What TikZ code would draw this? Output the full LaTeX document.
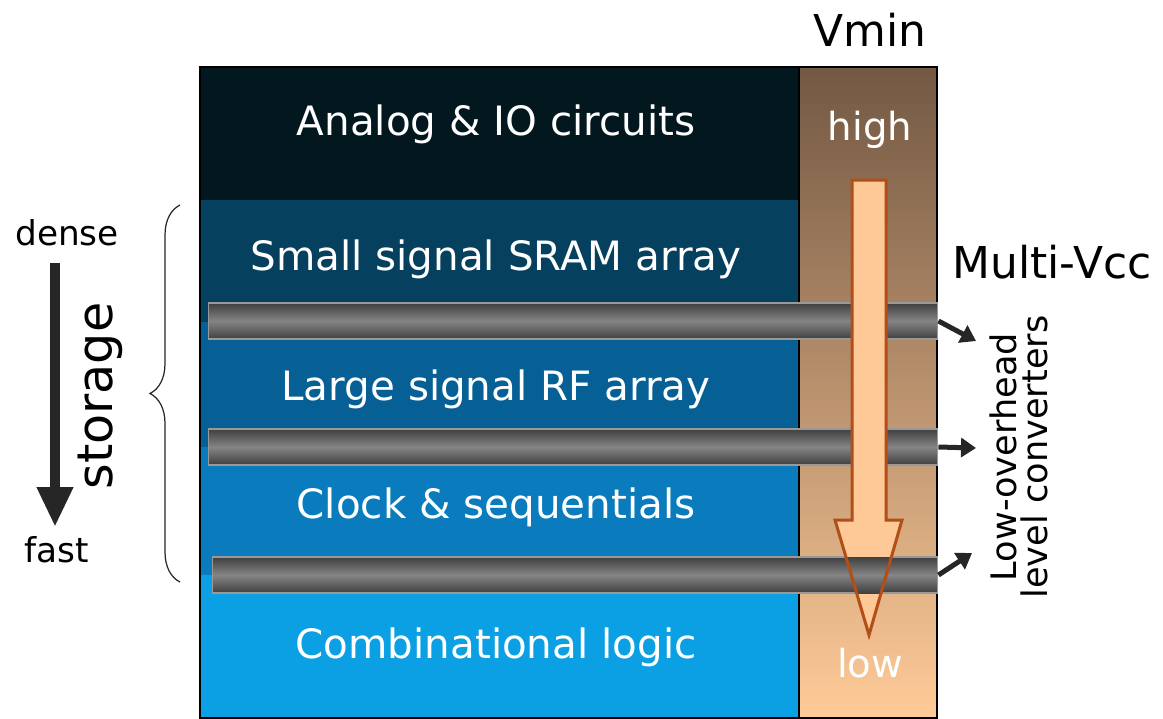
\documentclass[tikz,border=0pt]{standalone}
\usepackage{fontspec}
\setmainfont{DejaVu Sans}
\usetikzlibrary{arrows.meta, decorations.pathreplacing, positioning}

\definecolor{rowA}{HTML}{03171F}
\definecolor{rowB}{HTML}{05405F}
\definecolor{rowC}{HTML}{066096}
\definecolor{rowD}{HTML}{0A7CBD}
\definecolor{rowE}{HTML}{0BA0E4}
\definecolor{vtop}{HTML}{735843}
\definecolor{vbot}{HTML}{FFCB98}
\definecolor{peach}{HTML}{FFC897}
\definecolor{rust}{HTML}{B24E18}
\definecolor{ink}{HTML}{262626}

\begin{document}
\begin{tikzpicture}[
  x = 0.02cm, y = -0.02cm,     % one unit = one pixel of the sketch
  line join = miter
  ]

  \tikzstyle{T1}=[      % Defines style for row labels
  text = white,
  anchor = base,
  font = \fontsize{23}{27}\selectfont
  ]

  \tikzstyle{T2}=[      % Defines style for outside labels
  text = black,
  anchor = base,
  font = \fontsize{25}{29}\selectfont
  ]

  \tikzstyle{B1}=[      % Defines style for the wire bars
  rectangle, inner sep = 0pt,
  minimum width = 14.6cm, minimum height = 0.72cm,
  top color = black!75, bottom color = black!75, middle color = black!48,
  draw = black!40, line width = 0.6pt
  ]

  \tikzstyle{A1}=[      % Defines style for converter arrows
  ink, line width = 0.1cm,
  -{Triangle[length=0.3cm, width=0.38cm]}
  ]

  \useasboundingbox (0,0) rectangle (1163,718);

  % Rows of the block
  \fill[rowA] (200,67) rectangle (800,200);
  \fill[rowB] (200,200) rectangle (800,322);
  \fill[rowC] (200,322) rectangle (800,447);
  \fill[rowD] (200,447) rectangle (800,575);
  \fill[rowE] (200,575) rectangle (800,718);

  % Vmin column
  \shade[top color = vtop, bottom color = vbot] (800,67) rectangle (937,718);
  \draw[black, line width = 0.8pt] (200,67) rectangle (937,718);
  \draw[black, line width = 0.8pt] (799,67) -- (799,718);

  % Row labels
  \node[T1] (analog) at (496,135) {Analog \& IO circuits};
  \node[T1] (sram)   at (496,270) {Small signal SRAM array};
  \node[T1] (rf)     at (496,400) {Large signal RF array};
  \node[T1] (clk)    at (496,518) {Clock \& sequentials};
  \node[T1] (comb)   at (496,658) {Combinational logic};

  \node[T1, font = \fontsize{22}{26}\selectfont] (high) at (870,140) {high};
  \node[T1, font = \fontsize{22}{26}\selectfont] (low)  at (870,677) {low};

  % Wire bars
  \node[B1] (bar1) at (573,321) {};
  \node[B1] (bar2) at (573,447) {};
  \node[B1, minimum width = 14.52cm] (bar3) at (575,575) {};

  % Vmin arrow
  \fill[peach] (852,180) -- (886,180) -- (886,520) -- (902,520) -- (869,635)
    -- (835,520) -- (852,520) -- cycle;
  \begin{scope}
    \clip (886,520) -- (902,520) -- (869,635) -- (835,520) -- (852,520) -- cycle;
    \shade[top color = black!75, bottom color = black!75, middle color = black!48]
      (830,557) rectangle (910,593);
  \end{scope}
  \draw[rust, line width = 0.06cm] (852,180) -- (886,180) -- (886,520)
    -- (902,520) -- (869,635) -- (835,520) -- (852,520) -- cycle;

  % Outside labels
  \node[T2] (vmin) at (870,46) {Vmin};
  \node[T2] (mvcc) at (1052,278) {Multi-Vcc};
  \node[rotate = 90, align = center, font = \fontsize{20}{18}\selectfont]
    (lvl) at (1019,457) {Low-overhead\\level converters};

  % Converter arrows
  \coordinate (c1) at (976,341);
  \coordinate (c2) at (976,448);
  \coordinate (c3) at (972,553);
  \draw[A1] (bar1.east) -- (c1);
  \draw[A1] (bar2.east) -- (c2);
  \draw[A1] (bar3.east) -- (c3);

  % Storage side
  \node[T2, font = \fontsize{19.5}{23}\selectfont] (dense) at (67,245) {dense};
  \node[T2, font = \fontsize{19.5}{23}\selectfont] (fast)  at (57,562) {fast};
  \node[rotate = 90, font = \fontsize{28}{32}\selectfont] (stor) at (100,396) {storage};

  \coordinate (sTop) at (55,263);
  \coordinate (sBot) at (55,527);
  \draw[ink, line width = 0.22cm, -{Triangle[length=0.8cm, width=0.68cm]}]
    (sTop) -- (sBot);

  \draw[ink, line width = 0.7pt, decorate,
    decoration = {brace, amplitude = 0.6cm}] (180,582) -- (180,205);
\end{tikzpicture}
\end{document}
